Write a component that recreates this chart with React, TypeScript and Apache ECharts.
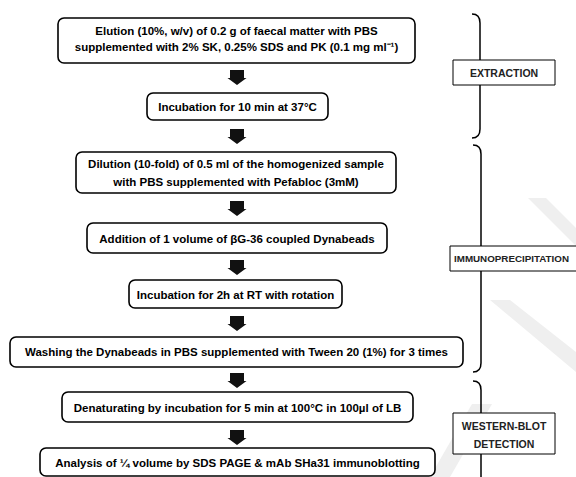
import React, { useEffect, useRef } from "react";
import * as echarts from "echarts";

// ---- content ----
const stepLines: string[][] = [
  ["Elution (10%, w/v) of 0.2 g of faecal matter with PBS", "supplemented with 2% SK, 0.25% SDS and PK (0.1 mg ml⁻¹)"],
  ["Incubation for 10 min at 37°C"],
  ["Dilution (10-fold) of 0.5 ml of the homogenized sample", "with PBS supplemented with Pefabloc (3mM)"],
  ["Addition of 1 volume of βG-36 coupled Dynabeads"],
  ["Incubation for 2h at RT with rotation"],
  ["Washing the Dynabeads in PBS supplemented with Tween 20 (1%) for 3 times"],
  ["Denaturating by incubation for 5 min at 100°C in 100µl of LB"],
  ["Analysis of ¼ volume by SDS PAGE & mAb SHa31 immunoblotting"],
];
const sectionLabels: string[][] = [["EXTRACTION"], ["IMMUNOPRECIPITATION"], ["WESTERN-BLOT", "DETECTION"]];

// ---- layout ----
const CX = 237;
const boxX: number[][] = [[58, 415], [147, 328], [76, 396], [87, 387], [129, 342], [10, 463], [62, 413], [40, 435]];
const boxY: number[][] = [[18, 63], [93, 120], [152, 193], [223, 253], [280, 308], [337, 367], [392, 422], [448, 476]];
const lineYs: number[][] = [[30.5, 47], [107], [164, 182], [239], [295], [352], [408], [463]];
const arrowTops: number[] = [70, 129, 201, 260, 316, 373, 430];
const braceX = [480, 481, 481];
const braceY: number[][] = [[14, 138], [145, 372], [381, 490]];
const labelBox: number[][] = [[453, 555, 60, 85], [450, 590, 246, 271], [453, 555, 413, 454]];
const labelLineYs: number[][] = [[72.5], [258.5], [426, 444]];

const MAIN_FONT = 'bold 11.5px "Liberation Sans", Arial, sans-serif';
const LABEL_FONT = 'bold 10.5px "Liberation Sans", Arial, sans-serif';
const LABEL_FONT_WIDE = 'bold 9.8px "Liberation Sans", Arial, sans-serif';

function buildElements() {
  const els: any[] = [];
  // faint watermark strokes
  const wm: number[][][] = [
    [[528, 198], [546, 198], [576, 228], [576, 246]],
    [[490, 300], [510, 300], [576, 352], [576, 372]],
    [[430, 477], [450, 477], [492, 404], [472, 404]],
  ];
  wm.forEach((pts) =>
    els.push({ type: "polygon", z: 0, shape: { points: pts }, style: { fill: "#efefef" } })
  );
  // boxes
  stepLines.forEach((lines, i) => {
    const [x1, x2] = boxX[i];
    const [y1, y2] = boxY[i];
    els.push({
      type: "rect",
      z: 2,
      shape: { x: x1, y: y1, width: x2 - x1, height: y2 - y1, r: 6 },
      style: { fill: "#fff", stroke: "#000", lineWidth: 1.6 },
    });
    lines.forEach((t, j) => {
      els.push({
        type: "text",
        z: 3,
        x: (x1 + x2) / 2,
        y: lineYs[i][j],
        style: { text: t, font: MAIN_FONT, fill: "#000", align: "center", verticalAlign: "middle" },
      });
    });
  });
  // arrows
  arrowTops.forEach((y) => {
    els.push({
      type: "polygon",
      z: 2,
      shape: {
        points: [
          [CX - 7, y],
          [CX + 7, y],
          [CX + 7, y + 8],
          [CX + 9.5, y + 8],
          [CX, y + 15],
          [CX - 9.5, y + 8],
          [CX - 7, y + 8],
        ],
      },
      style: { fill: "#111" },
    });
  });
  // braces
  braceX.forEach((bx, i) => {
    const [t, b] = braceY[i];
    const st = { stroke: "#000", lineWidth: 1.5, fill: "none" };
    els.push({ type: "bezierCurve", z: 1, shape: { x1: bx - 8, y1: t, x2: bx, y2: t + 9, cpx1: bx, cpy1: t }, style: st });
    els.push({ type: "line", z: 1, shape: { x1: bx, y1: t + 9, x2: bx, y2: b - 9 }, style: st });
    els.push({ type: "bezierCurve", z: 1, shape: { x1: bx, y1: b - 9, x2: bx - 8, y2: b, cpx1: bx, cpy1: b }, style: st });
  });
  // section labels
  sectionLabels.forEach((lines, i) => {
    const [x1, x2, y1, y2] = labelBox[i];
    els.push({
      type: "rect",
      z: 4,
      shape: { x: x1, y: y1, width: x2 - x1, height: y2 - y1 },
      style: { fill: "#fff", stroke: "#000", lineWidth: 1 },
    });
    lines.forEach((t, j) => {
      els.push({
        type: "text",
        z: 5,
        x: i === 1 ? x1 + 4 : (x1 + x2) / 2,
        y: labelLineYs[i][j],
        style: {
          text: t,
          font: i === 1 ? LABEL_FONT_WIDE : LABEL_FONT,
          fill: "#222",
          align: i === 1 ? "left" : "center",
          verticalAlign: "middle",
        },
      });
    });
  });
  return els;
}

export default function App() {
  const ref = useRef<HTMLDivElement>(null);
  useEffect(() => {
    if (!ref.current) return;
    const chart = echarts.init(ref.current, null, { renderer: "svg", width: 576, height: 477 });
    chart.setOption({
      animation: false,
      backgroundColor: "#fff",
      graphic: { elements: buildElements() },
    });
    return () => chart.dispose();
  }, []);
  return (
    <div
      ref={ref}
      style={{ position: "absolute", left: 0, top: 0, width: 576, height: 477, background: "#fff" }}
    />
  );
}
